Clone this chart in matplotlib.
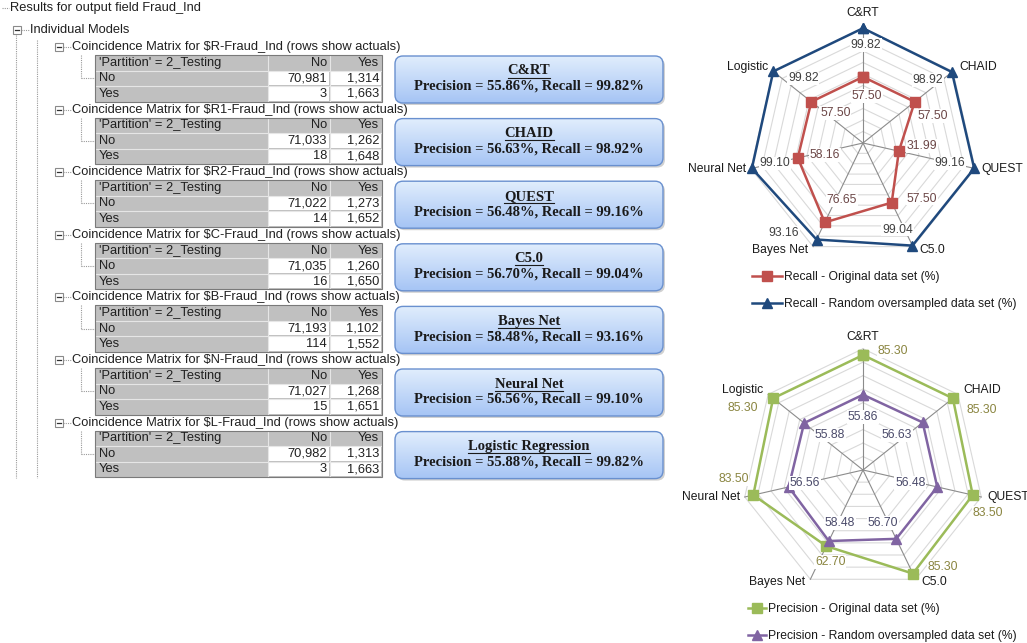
import numpy as np
import matplotlib
matplotlib.use("Agg")
import matplotlib.pyplot as plt
from matplotlib.patches import Rectangle, FancyBboxPatch

# coincidence matrices (rows = actual No / Yes, columns = predicted No / Yes)
model_codes = ["R", "R1", "R2", "C", "B", "N", "L"]
no_pred_no = [70981, 71033, 71022, 71035, 71193, 71027, 70982]
no_pred_yes = [1314, 1262, 1273, 1260, 1102, 1268, 1313]
yes_pred_no = [3, 18, 14, 16, 114, 15, 3]
yes_pred_yes = [1663, 1648, 1652, 1650, 1552, 1651, 1663]

box_titles = ["C&RT", "CHAID", "QUEST", "C5.0", "Bayes Net", "Neural Net",
              "Logistic Regression"]
box_precision = [55.86, 56.63, 56.48, 56.70, 58.48, 56.56, 55.88]
box_recall = [99.82, 98.92, 99.16, 99.04, 93.16, 99.10, 99.82]

# radar charts
radar_cats = ["C&RT", "CHAID", "QUEST", "C5.0", "Bayes Net", "Neural Net", "Logistic"]
recall_orig = [57.50, 57.50, 31.99, 57.50, 76.65, 58.16, 57.50]
recall_over = [99.82, 98.92, 99.16, 99.04, 93.16, 99.10, 99.82]
prec_orig = [85.30, 85.30, 83.50, 85.30, 62.70, 83.50, 85.30]
prec_over = [55.86, 56.63, 56.48, 56.70, 58.48, 56.56, 55.88]

# data-label offsets in pixels (right, down), mimicking Excel placement
recall_orig_off = [(4, 19), (18, 14), (23, -5), (30, -4), (17, -22), (27, -3), (24, 11)]
recall_over_off = [(3, 17), (-24, 8), (-24, -5), (-15, -16), (-33, -7), (23, -5), (30, 7)]
prec_orig_off = [(30, -4), (29, 12), (15, 18), (30, -7), (4, 16), (-20, -16), (-30, 10)]
prec_over_off = [(0, 22), (-26, 13), (-27, -4), (-13, -16), (11, -18), (16, -4), (26, 12)]

SANS = "Liberation Sans"
SERIF = "Liberation Serif"
W, H = 1027, 643
FS_TREE = 9.3
FS_CHART = 8.7

fig = plt.figure(figsize=(W / 100, H / 100), dpi=100)
bg = fig.add_axes([0, 0, 1, 1])
bg.set_axis_off()

dot = dict(color="#9a9a9a", lw=0.8, ls=(0, (1, 1)))


def minus_box(x, y):
    bg.add_patch(Rectangle((x - 4, y - 4), 8, 8, fc="white", ec="#8a8a8a", lw=0.8, zorder=3))
    bg.plot([x - 2, x + 2], [y, y], color="#303030", lw=0.9, zorder=4)


# tree header
bg.plot([2, 9], [8, 8], **dot)
bg.text(10, 8, "Results for output field Fraud_Ind", family=SANS, fontsize=FS_TREE,
        va="center", color="#202020")
minus_box(17, 30)
bg.plot([21, 29], [30, 30], **dot)
bg.text(30, 30, "Individual Models", family=SANS, fontsize=FS_TREE, va="center",
        color="#202020")
bg.plot([16, 16], [35, 478], **dot)
bg.plot([37, 37], [40, 478], **dot)

# gradient for the result boxes
grad = np.linspace(0, 1, 64)[:, None, None]
top_c = np.array([0.88, 0.93, 0.99])
bot_c = np.array([0.65, 0.77, 0.96])
grad = top_c * (1 - grad) + bot_c * grad

cols = [95, 268, 330, 382]
rh = 15.5
titles = []
for b, code in enumerate(model_codes):
    y0 = 47 + 62.6 * b
    minus_box(59, y0)
    bg.plot([63, 71], [y0, y0], **dot)
    bg.text(72, y0, f"Coincidence Matrix for ${code}-Fraud_Ind (rows show actuals)",
            family=SANS, fontsize=FS_TREE, va="center", color="#202020", zorder=1)

    top = y0 + 8
    bg.plot([81, 81], [top, top + 1.5 * rh], **dot)
    bg.plot([81, 95], [top + 1.5 * rh] * 2, **dot)
    bg.add_patch(Rectangle((cols[0], top), cols[3] - cols[0], 3 * rh,
                           fc="#c0c0c0", ec="none", zorder=2))
    for r in (1, 2):
        for c in (1, 2):
            bg.add_patch(Rectangle((cols[c] + 1, top + r * rh + 1), cols[c + 1] - cols[c] - 2,
                                   rh - 2, fc="white", ec="none", zorder=2))
    for r in (1, 2):
        bg.plot([cols[0], cols[3]], [top + r * rh] * 2, color="#e6e6e6", lw=0.8, zorder=2.5)
    for c in (1, 2):
        bg.plot([cols[c]] * 2, [top, top + 3 * rh], color="#e6e6e6", lw=0.8, zorder=2.5)
    bg.add_patch(Rectangle((cols[0], top), cols[3] - cols[0], 3 * rh,
                           fc="none", ec="#7a7a7a", lw=0.8, zorder=3))

    tk = dict(family=SANS, fontsize=FS_TREE, va="center", color="#202020", zorder=4)
    bg.text(cols[0] + 4, top + rh / 2, "'Partition' = 2_Testing", **tk)
    bg.text(cols[2] - 3, top + rh / 2, "No", ha="right", **tk)
    bg.text(cols[3] - 3, top + rh / 2, "Yes", ha="right", **tk)
    rows = [("No", no_pred_no[b], no_pred_yes[b]), ("Yes", yes_pred_no[b], yes_pred_yes[b])]
    for r, (lab, v_no, v_yes) in enumerate(rows, start=1):
        yc = top + r * rh + rh / 2
        bg.text(cols[0] + 4, yc, lab, **tk)
        bg.text(cols[2] - 3, yc, f"{v_no:,}", ha="right", **tk)
        bg.text(cols[3] - 3, yc, f"{v_yes:,}", ha="right", **tk)

    # result box
    bx, bt, bw, bh = 395, 56 + 62.6 * b, 268, 47
    bg.add_patch(FancyBboxPatch((bx + 2, bt + 2), bw, bh,
                                boxstyle="round,pad=0,rounding_size=8",
                                fc="#9a9a9a", ec="none", alpha=0.45, zorder=4))
    frame = FancyBboxPatch((bx, bt), bw, bh, boxstyle="round,pad=0,rounding_size=8",
                           fc="none", ec="#6990cf", lw=1.0, zorder=6)
    bg.add_patch(frame)
    im = bg.imshow(grad, extent=(bx, bx + bw, bt + bh, bt), origin="upper",
                   aspect="auto", zorder=5, interpolation="bilinear")
    im.set_clip_path(frame)
    t = bg.text(bx + bw / 2, bt + 15, box_titles[b], family=SERIF, weight="bold",
                fontsize=10.5, ha="center", va="center", color="#1a1a1a", zorder=7)
    titles.append((t, bt))
    bg.text(bx + bw / 2, bt + 30.5,
            f"Precision = {box_precision[b]:.2f}%, Recall = {box_recall[b]:.2f}%",
            family=SERIF, weight="bold", fontsize=10.5, ha="center", va="center",
            color="#1a1a1a", zorder=7)

bg.set_xlim(0, W)
bg.set_ylim(H, 0)


def radar(cx, cy, rpx, rmax, s1, s2, c1, c2, m1, m2, lc1, lc2, off1, off2, top_dy):
    rect = [(cx - rpx) / W, (H - cy - rpx) / H, 2 * rpx / W, 2 * rpx / H]
    ax = fig.add_axes(rect, projection="polar")
    ax.set_theta_offset(np.pi / 2)
    ax.set_theta_direction(-1)
    ax.set_ylim(0, rmax)
    ax.set_axis_off()
    n = len(radar_cats)
    th = np.arange(n) * 2 * np.pi / n
    thc = np.append(th, th[0])
    for r in range(10, rmax + 1, 10):
        ax.plot(thc, [r] * (n + 1), color="#d9d9d9", lw=0.8, zorder=1, clip_on=False)
    for t in th:
        ax.plot([t, t], [0, rmax], color="#8c8c8c", lw=0.8, zorder=1.2, clip_on=False)
    l1, = ax.plot(thc, s1 + s1[:1], color=c1, lw=1.8, marker=m1, ms=7, zorder=3,
                  clip_on=False)
    l2, = ax.plot(thc, s2 + s2[:1], color=c2, lw=1.8, marker=m2, ms=7, zorder=3,
                  clip_on=False)
    for vals, offs, lc in ((s1, off1, lc1), (s2, off2, lc2)):
        for t, v, (dx, dy) in zip(th, vals, offs):
            ax.annotate(f"{v:.2f}", xy=(t, v), xytext=(dx, -dy), textcoords="offset pixels",
                        ha="center", va="center", family=SANS, fontsize=FS_CHART, color=lc,
                        bbox=dict(fc="white", ec="none", pad=0.6), zorder=4,
                        annotation_clip=False)
    for t, name in zip(th, radar_cats):
        sx = np.sin(t)
        if abs(sx) < 0.1:
            ha, dx, dy = "center", 0, top_dy
        else:
            ha = "left" if sx > 0 else "right"
            dx = 6 if sx > 0 else -5
            cy_ = np.cos(t)
            dy = 4 if cy_ > 0.3 else (-3 if cy_ < -0.3 else 0)
        ax.annotate(name, xy=(t, rmax), xytext=(dx, dy), textcoords="offset pixels",
                    ha=ha, va="center", family=SANS, fontsize=FS_CHART, color="#1a1a1a",
                    zorder=5, annotation_clip=False)
    return ax, [l1, l2]


leg_kw = dict(loc="upper left", bbox_transform=fig.transFigure, frameon=False,
              prop=dict(family=SANS, size=FS_CHART), handletextpad=0.15,
              labelspacing=1.25, borderpad=0, borderaxespad=0, labelcolor="#1a1a1a")

ax1, h1 = radar(863, 143, 115, 100, recall_orig, recall_over, "#c0504d", "#1f497d", "s", "^",
                "#6b4646", "#404040", recall_orig_off, recall_over_off, 15)
ax1.legend(h1, ["Recall - Original data set (%)", "Recall - Random oversampled data set (%)"],
           bbox_to_anchor=(752 / W, 1 - 271 / H), handlelength=2.5, **leg_kw)

ax2, h2 = radar(863, 470, 121.3, 90, prec_orig, prec_over, "#9bbb59", "#8064a2", "s", "^",
                "#8a8540", "#4a4a6a", prec_orig_off, prec_over_off, 12)
ax2.legend(h2, ["Precision - Original data set (%)",
                "Precision - Random oversampled data set (%)"],
           bbox_to_anchor=(748 / W, 1 - 603 / H), handlelength=1.5, **leg_kw)

# underline the box titles
fig.canvas.draw()
inv = bg.transData.inverted()
for t, bt in titles:
    ext = t.get_window_extent()
    x0 = inv.transform((ext.x0, ext.y0))[0]
    x1 = inv.transform((ext.x1, ext.y0))[0]
    bg.plot([x0, x1], [bt + 21.5] * 2, color="#1a1a1a", lw=0.8, zorder=7)

fig.savefig("out.png", dpi=100, facecolor="white")
